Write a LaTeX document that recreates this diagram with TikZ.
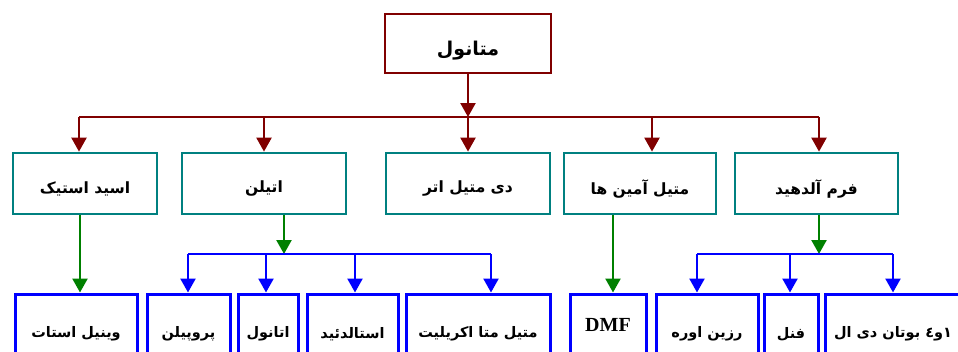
\documentclass[tikz,border=0pt]{standalone}
\usepackage{fontspec}
\usetikzlibrary{arrows.meta}
\newfontfamily\fafont[Script=Arabic]{DejaVu Sans}
\newfontfamily\latfont{Liberation Serif}
\TeXXeTstate=1
\newcommand\fatxt[2][0pt]{\raisebox{-#1}[\height][\depth]{\fafont\bfseries\beginR #2\endR}}
\definecolor{dred}{RGB}{128,0,0}
\definecolor{teal2}{RGB}{0,128,128}
\definecolor{green2}{RGB}{0,128,0}
\definecolor{blue2}{RGB}{0,0,255}
\tikzset{
  topbox/.style={draw=dred,line width=2.8pt,minimum width=166pt,minimum height=59pt,inner sep=0pt,font=\fontsize{19}{21}\selectfont},
  midbox/.style={draw=teal2,line width=2.8pt,minimum height=61pt,inner sep=0pt,font=\fontsize{15.5}{17}\selectfont},
  lowbox/.style={draw=blue2,line width=3pt,minimum height=76pt,inner sep=0pt,font=\fontsize{14.5}{16}\selectfont},
  redcon/.style={draw=dred,line width=2.4pt},
  greencon/.style={draw=green2,line width=2.4pt},
  bluecon/.style={draw=blue2,line width=2.4pt},
  tip/.style={-{Triangle[width=15pt,length=14pt]}},
}
\begin{document}
\begin{tikzpicture}[x=1pt,y=-1pt]
\useasboundingbox (0,0) rectangle (958,351);
% top
\node[topbox] (top) at (468,43.5) {\fatxt[7pt]{متانول}};
% second row
\node[midbox,minimum width=144pt] (b1) at (85,183.5) {\fatxt[5pt]{اسید استیک}};
\node[midbox,minimum width=164pt] (b2) at (264,183.5) {\fatxt[5pt]{اتیلن}};
\node[midbox,minimum width=164pt] (b3) at (468,183.5) {\fatxt[5pt]{دی متیل اتر}};
\node[midbox,minimum width=152pt] (b4) at (640,183.5) {\fatxt[5pt]{متیل آمین ها}};
\node[midbox,minimum width=163pt] (b5) at (816.5,183.5) {\fatxt[5pt]{فرم آلدهید}};
% third row
\node[lowbox,minimum width=122pt] (v1) at (76,332) {\fatxt[2pt]{وینیل استات}};
\node[lowbox,minimum width=83pt] (e1) at (188.5,332) {\fatxt[2pt]{پروپیلن}};
\node[lowbox,minimum width=60pt] (e2) at (268,332) {\fatxt[2pt]{اتانول}};
\node[lowbox,minimum width=91pt] (e3) at (352.5,332) {\fatxt[2pt]{استالدئید}};
\node[lowbox,minimum width=144pt] (e4) at (478,332) {\fatxt[2pt]{متیل متا اکریلیت}};
\node[lowbox,minimum width=76pt,text depth=14pt] (d1) at (608,332) {\latfont\bfseries\fontsize{20}{22}\selectfont DMF};
\node[lowbox,minimum width=102pt] (f1) at (707,332) {\fatxt[2pt]{رزین اوره}};
\node[lowbox,minimum width=54pt] (f2) at (791,332) {\fatxt[2pt]{فنل}};
\node[lowbox,minimum width=136pt] (f3) at (893,332) {\fatxt[2pt]{١و٤ بوتان دی ال}};
% red bus
\coordinate (r0) at (468,117);
\coordinate (r1) at (79,117);
\coordinate (r2) at (264,117);
\coordinate (r3) at (468,117);
\coordinate (r4) at (652,117);
\coordinate (r5) at (819,117);
\draw[redcon,tip] (top.south) -- (r0);
\draw[redcon] (r1) -- (r5);
\draw[redcon,tip] (r1) -- (r1 |- b1.north);
\draw[redcon,tip] (r2) -- (r2 |- b2.north);
\draw[redcon,tip] (r3) -- (r3 |- b3.north);
\draw[redcon,tip] (r4) -- (r4 |- b4.north);
\draw[redcon,tip] (r5) -- (r5 |- b5.north);
% acetic acid -> vinyl acetate
\coordinate (g1) at (80,214);
\draw[greencon,tip] (g1 |- b1.south) -- (g1 |- v1.north);
% ethylene
\coordinate (g2) at (284,254);
\draw[greencon,tip] (g2 |- b2.south) -- (g2);
\coordinate (eb1) at (188,254);
\coordinate (eb2) at (266,254);
\coordinate (eb3) at (355,254);
\coordinate (eb4) at (491,254);
\draw[bluecon] (eb1) -- (eb4);
\draw[bluecon,tip] (eb1) -- (eb1 |- e1.north);
\draw[bluecon,tip] (eb2) -- (eb2 |- e2.north);
\draw[bluecon,tip] (eb3) -- (eb3 |- e3.north);
\draw[bluecon,tip] (eb4) -- (eb4 |- e4.north);
% methyl amines -> DMF
\coordinate (g4) at (613,215);
\draw[greencon,tip] (g4 |- b4.south) -- (g4 |- d1.north);
% formaldehyde
\coordinate (g5) at (819,254);
\draw[greencon,tip] (g5 |- b5.south) -- (g5);
\coordinate (fb1) at (697,254);
\coordinate (fb2) at (790,254);
\coordinate (fb3) at (893,254);
\draw[bluecon] (fb1) -- (fb3);
\draw[bluecon,tip] (fb1) -- (fb1 |- f1.north);
\draw[bluecon,tip] (fb2) -- (fb2 |- f2.north);
\draw[bluecon,tip] (fb3) -- (fb3 |- f3.north);
\end{tikzpicture}
\end{document}
